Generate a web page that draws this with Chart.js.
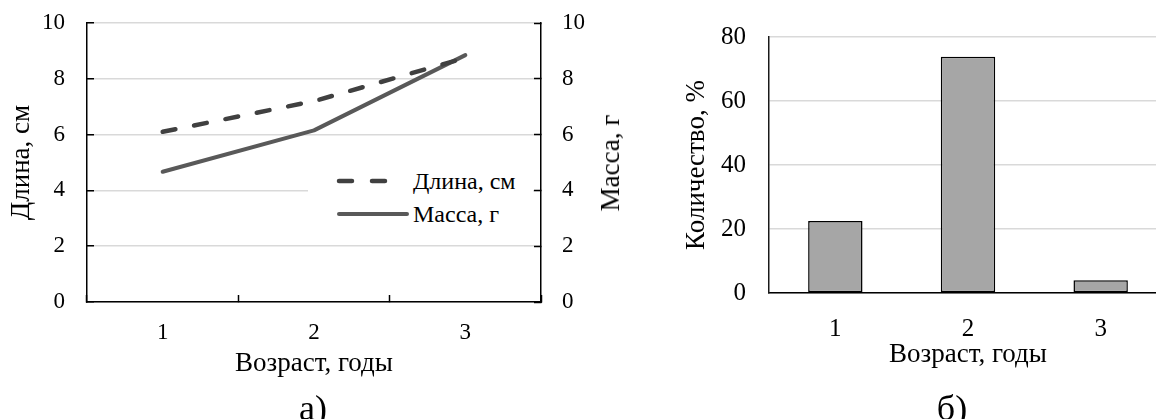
<!DOCTYPE html>
<html>
<head>
<meta charset="utf-8">
<script src="https://cdn.jsdelivr.net/npm/chart.js@4/dist/chart.umd.min.js"></script>
<style>
  html, body { margin: 0; padding: 0; background: #fff; overflow: hidden; }
  body { width: 1156px; height: 419px; position: relative; font-family: 'Liberation Serif', serif; }
  #wrapA { position: absolute; left: 0; top: 0; width: 640px; height: 419px; }
  #wrapB { position: absolute; left: 660px; top: 0; width: 507px; height: 419px; }
  .cap { position: absolute; font-size: 36px; line-height: 36px; color: #000; transform: translateX(-50%); white-space: nowrap; }
  #legendA { position: absolute; left: 308px; top: 160px; width: 225px; height: 72px; background: #fff; }
  #legendA .txt { position: absolute; left: 105px; font-size: 24px; line-height: 24px; color: #000; white-space: nowrap; }
  #titleY2 { position: absolute; left: 610px; top: 163px; font-size: 27px; line-height: 28px; white-space: nowrap; transform: translate(-50%, -50%) rotate(-90deg); }
</style>
</head>
<body>
<div id="wrapA"><canvas id="chartA"></canvas></div>
<div id="wrapB"><canvas id="chartB"></canvas></div>
<div id="legendA">
  <svg width="225" height="72" style="position:absolute;left:0;top:0">
    <line x1="31" y1="21" x2="80" y2="21" stroke="#404040" stroke-width="4.5" stroke-linecap="round" stroke-dasharray="13 20"/>
    <line x1="31" y1="54" x2="99" y2="54" stroke="#595959" stroke-width="4" stroke-linecap="round"/>
  </svg>
  <div class="txt" id="legTxt1" style="top:9px"></div>
  <div class="txt" id="legTxt2" style="top:42px"></div>
</div>
<div id="titleY2"></div>
<div class="cap" style="left:313px; top:390px">а)</div>
<div class="cap" style="left:952px; top:390px">б)</div>
<script>
// ---- data ----
const ageCategories = ['1', '2', '3'];
const lengthCm = [6.1, 7.2, 8.75];
const massG = [4.67, 6.15, 8.85];
const sharePercent = [22.5, 73.8, 4.0];
const lengthLabel = 'Длина, см';
const massLabel = 'Масса, г';
const ageTitle = 'Возраст, годы';
const shareTitle = 'Количество, %';

document.getElementById('legTxt1').textContent = lengthLabel;
document.getElementById('legTxt2').textContent = massLabel;
document.getElementById('titleY2').textContent = massLabel;

Chart.defaults.font.family = "'Liberation Serif', serif";
Chart.defaults.color = '#000';
Chart.defaults.animation = false;

const GRID = '#d9d9d9';
const TITLE_SIZE = 27;

function fixV(width) {
  return s => { s.width = width; s.paddingTop = 0; s.paddingBottom = 0; };
}
function fixH(height) {
  return s => { s.height = height; s.paddingLeft = 0; s.paddingRight = 0; };
}

new Chart(document.getElementById('chartA'), {
  type: 'line',
  data: {
    labels: ageCategories,
    datasets: [
      { label: lengthLabel, data: lengthCm, yAxisID: 'y', borderColor: '#404040', borderWidth: 4.5,
        borderDash: [13, 19], borderCapStyle: 'round', pointRadius: 0, tension: 0, fill: false },
      { label: massLabel, data: massG, yAxisID: 'y2', borderColor: '#595959', borderWidth: 4,
        borderCapStyle: 'round', borderJoinStyle: 'round', pointRadius: 0, tension: 0, fill: false }
    ]
  },
  options: {
    responsive: true, maintainAspectRatio: false,
    layout: { autoPadding: false, padding: { top: 23, left: 0, right: 0, bottom: 0 } },
    plugins: { legend: { display: false }, tooltip: { enabled: false } },
    scales: {
      x: {
        offset: true,
        afterFit: fixH(117),
        grid: { offset: true, drawOnChartArea: false, drawTicks: true, tickLength: -7, tickColor: '#000', tickWidth: 1.5 },
        border: { color: '#000', width: 1.5 },
        ticks: { font: { size: 23 }, padding: 24, color: '#000' },
        title: { display: true, text: ageTitle, font: { size: TITLE_SIZE }, padding: { top: 0, bottom: 39 }, color: '#000' }
      },
      y: {
        position: 'left', min: 0, max: 10,
        afterFit: fixV(87),
        grid: { color: GRID, lineWidth: 1.5, drawTicks: true, tickLength: -7, tickColor: '#000', tickWidth: 1.5 },
        border: { color: '#000', width: 1.5 },
        ticks: { stepSize: 2, font: { size: 23 }, padding: 29, color: '#000' },
        title: { display: true, text: lengthLabel, font: { size: TITLE_SIZE }, padding: { top: 6, bottom: 0 }, color: '#000' }
      },
      y2: {
        position: 'right', min: 0, max: 10,
        afterFit: fixV(99),
        grid: { drawOnChartArea: false, drawTicks: true, tickLength: -7, tickColor: '#000', tickWidth: 1.5 },
        border: { color: '#000', width: 1.5 },
        ticks: { stepSize: 2, font: { size: 23 }, padding: 28, color: '#000' }
      }
    }
  }
});

new Chart(document.getElementById('chartB'), {
  type: 'bar',
  data: {
    labels: ageCategories,
    datasets: [
      { label: shareTitle, data: sharePercent, backgroundColor: '#a6a6a6', borderColor: '#000', borderWidth: 1.5,
        borderSkipped: false, barPercentage: 0.41, categoryPercentage: 1 }
    ]
  },
  options: {
    responsive: true, maintainAspectRatio: false,
    layout: { autoPadding: false, padding: { top: 37, left: 0, right: 0, bottom: 0 } },
    plugins: { legend: { display: false }, tooltip: { enabled: false } },
    scales: {
      x: {
        afterFit: fixH(126),
        grid: { drawOnChartArea: false, drawTicks: false },
        border: { color: '#000', width: 1.5 },
        ticks: { font: { size: 25 }, padding: 21, color: '#000' },
        title: { display: true, text: ageTitle, font: { size: TITLE_SIZE }, padding: { top: 0, bottom: 48 }, color: '#000' }
      },
      y: {
        min: 0, max: 80,
        afterFit: fixV(109),
        grid: { color: GRID, lineWidth: 1.5, drawTicks: false },
        border: { color: '#1a1a1a', width: 1.5 },
        ticks: { stepSize: 20, font: { size: 25 }, padding: 23, color: '#000' },
        title: { display: true, text: shareTitle, font: { size: TITLE_SIZE }, padding: { top: 21, bottom: 0 }, color: '#000' }
      }
    }
  }
});
</script>
</body>
</html>
